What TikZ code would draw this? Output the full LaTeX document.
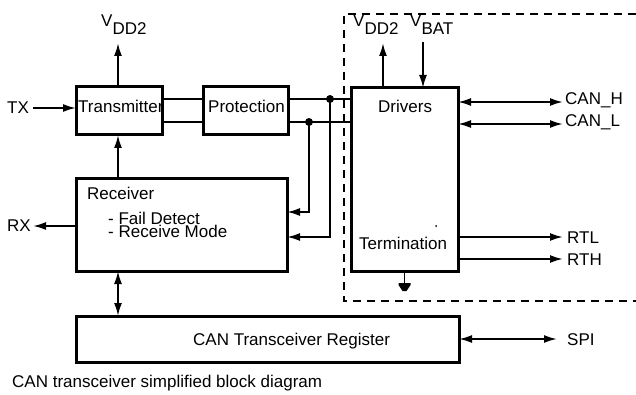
\documentclass[tikz,border=0pt]{standalone}
\usepackage{fontspec}
\setmainfont{Liberation Sans}
\usetikzlibrary{arrows.meta}
\begin{document}
\begin{tikzpicture}[x=1pt,y=-1pt,
  font=\fontsize{17}{20}\selectfont,
  blk/.style={draw,line width=3pt,inner sep=0pt,outer sep=0pt},
  lbl/.style={inner sep=0pt,anchor=base west},
  wire/.style={line width=2pt},
  arr/.style={wire,-{Latex[length=13pt,width=8pt]}},
  darr/.style={wire,{Latex[length=13pt,width=8pt]}-{Latex[length=13pt,width=8pt]}},
  dashbox/.style={line width=2pt,dash pattern=on 8pt off 6pt}]
\useasboundingbox (0,0) rectangle (636,395);
% dashed region
\draw[dashbox] (636,14) -- (344,14) -- (344,301) -- (636,301);
% blocks
\node[blk,minimum width=86,minimum height=48] (tx) at (119,111) {};
\node[blk,minimum width=85,minimum height=48] (prot) at (245.5,111) {};
\node[blk,minimum width=107,minimum height=183] (drv) at (404.5,179.5) {};
\node[blk,minimum width=211,minimum height=92] (rcv) at (181.5,225) {};
\node[blk,minimum width=383,minimum height=46] (reg) at (267.5,339) {};
% texts
\node[lbl] (txt) at (78,113) {Transmitter};
\node[lbl] (prott) at (208,113) {Protection};
\node[lbl] (drvt) at (378,113) {Drivers};
\node[lbl] (term) at (359,249) {Termination};
\node[lbl] (rcvt) at (87,200) {Receiver};
\node[lbl] (fail) at (108,225) {- Fail Detect};
\node[lbl] (rmode) at (108,237) {- Receive Mode};
\node[lbl] (regt) at (193,345) {CAN Transceiver Register};
\node[lbl] (txl) at (7,113.5) {TX};
\node[lbl] (rxl) at (7,231.5) {RX};
\node[lbl] (canh) at (565,105) {CAN\_H};
\node[lbl] (canl) at (565,127) {CAN\_L};
\node[lbl] (rtl) at (567,243) {RTL};
\node[lbl] (rth) at (567,265) {RTH};
\node[lbl] (spi) at (567,345) {SPI};
\node[lbl] (cap) at (12,387) {CAN transceiver simplified block diagram};
\node[lbl] (v1) at (101,27) {V\raisebox{-8pt}{DD2}};
\node[lbl] (v2) at (353,27) {V\raisebox{-8pt}{DD2}};
\node[lbl] (v3) at (410,27) {V\raisebox{-8pt}{BAT}};
% coordinates
\coordinate (v1t) at (118,43);
\coordinate (v2t) at (383,43);
\coordinate (v3s) at (423,42);
\coordinate (txa) at (33,108);
\coordinate (rxa) at (33,226);
\coordinate (hA) at (0,99);
\coordinate (hB) at (0,122);
\coordinate (dA) at (330,99);
\coordinate (dB) at (309,122);
\coordinate (fA) at (0,212);
\coordinate (fB) at (0,237);
\coordinate (ch) at (563,102);
\coordinate (cl) at (563,124);
\coordinate (rtlc) at (563,237);
\coordinate (rthc) at (563,259);
\coordinate (spic) at (557,339);
\coordinate (gnd) at (404.5,283);
% connectors
\draw[arr] (v1t |- tx.north) -- (v1t);
\draw[arr] (txa) -- (txa -| tx.west);
\draw[arr] (rxa -| rcv.west) -- (rxa);
\draw[arr] (rcv.north -| v1t) -- (tx.south -| v1t);
\draw[darr] (rcv.south -| v1t) -- (reg.north -| v1t);
\draw[wire] (tx.east |- hA) -- (prot.west |- hA);
\draw[wire] (tx.east |- hB) -- (prot.west |- hB);
\draw[wire] (prot.east |- hA) -- (drv.west |- hA);
\draw[wire] (prot.east |- hB) -- (drv.west |- hB);
\fill (dA) circle (4pt);
\fill (dB) circle (4pt);
\draw[arr] (dB) |- (rcv.east |- fA);
\draw[arr] (dA) |- (rcv.east |- fB);
\draw[arr] (v2t |- drv.north) -- (v2t);
\draw[arr] (v3s) -- (v3s |- drv.north);
\draw[darr] (ch -| drv.east) -- (ch);
\draw[darr] (cl -| drv.east) -- (cl);
\draw[arr] (rtlc -| drv.east) -- (rtlc);
\draw[arr] (rthc -| drv.east) -- (rthc);
\draw[darr] (spic -| reg.east) -- (spic);
% ground
\draw[line width=1pt] (drv.south) -- (gnd);
\fill ([xshift=-6pt]gnd) -- ([xshift=6pt]gnd) -- ([xshift=6pt,yshift=-2pt]gnd)
  -- ([xshift=2pt,yshift=-8pt]gnd) -- ([xshift=-2pt,yshift=-8pt]gnd) -- ([xshift=-6pt,yshift=-2pt]gnd) -- cycle;
\fill (436,226) circle (1pt);
\end{tikzpicture}
\end{document}
